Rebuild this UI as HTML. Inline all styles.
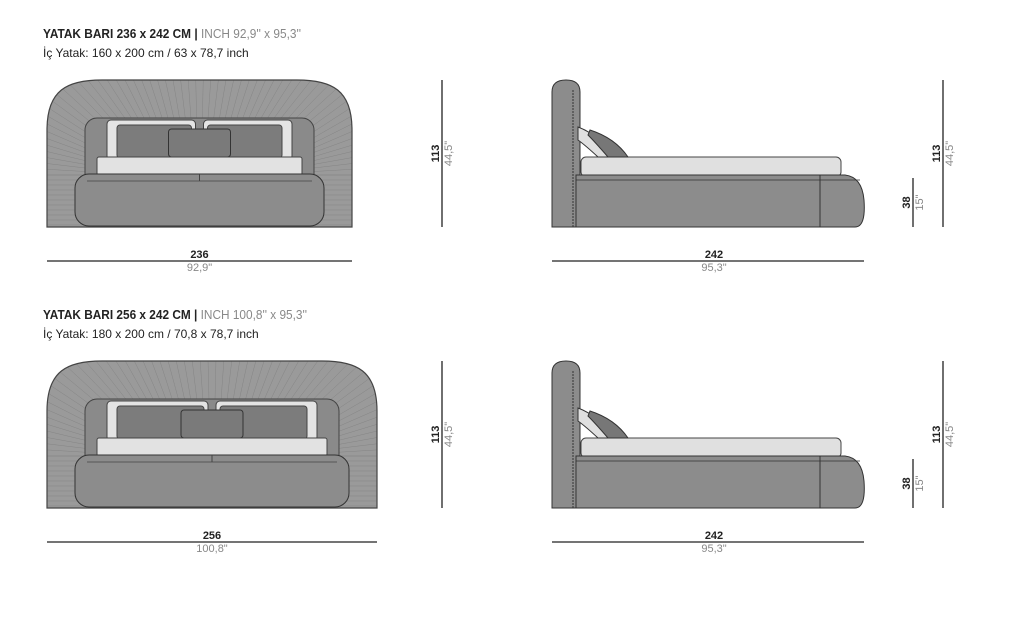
<!DOCTYPE html>
<html><head><meta charset="utf-8"><style>
body{margin:0;background:#fff;width:1021px;height:640px;overflow:hidden}
svg{display:block}
.t1{font-family:"Liberation Sans",sans-serif;font-weight:bold;font-size:13px;fill:#222}
.t1g{font-family:"Liberation Sans",sans-serif;font-size:13px;fill:#888;font-weight:normal}
.t2{font-family:"Liberation Sans",sans-serif;font-size:12px;fill:#222}
.d{font-family:"Liberation Sans",sans-serif;font-size:11px;fill:#222;font-weight:bold}
.dg{font-family:"Liberation Sans",sans-serif;font-size:11px;fill:#888}
</style></head><body>
<svg id="s" width="1021" height="640" xmlns="http://www.w3.org/2000/svg">
<text class="t1" x="43" y="38" textLength="258" lengthAdjust="spacingAndGlyphs">YATAK BARI 236 x 242 CM | <tspan class="t1g">INCH 92,9'' x 95,3''</tspan></text>
<text class="t2" x="43" y="57">İç Yatak: 160 x 200 cm / 63 x 78,7 inch</text>
<text class="t1" x="43" y="319" textLength="264" lengthAdjust="spacingAndGlyphs">YATAK BARI 256 x 242 CM | <tspan class="t1g">INCH 100,8'' x 95,3''</tspan></text>
<text class="t2" x="43" y="338">İç Yatak: 180 x 200 cm / 70,8 x 78,7 inch</text>
<g id="g"></g>
</svg>
<script>
var g=document.getElementById('g'),h='',cid=0;
function front(x0,W,y0,lbl,lblg){
 var x1=x0+W,H=147,y1=y0+H,cx=(x0+x1)/2;cid++;
 var p='M'+x0+' '+y1+' L'+x0+' '+(y0+50)+' C'+x0+' '+(y0+10)+' '+(x0+20)+' '+y0+' '+(x0+55)+' '+y0+' L'+(x1-55)+' '+y0+' C'+(x1-20)+' '+y0+' '+x1+' '+(y0+10)+' '+x1+' '+(y0+50)+' L'+x1+' '+y1+' Z';
 h+='<clipPath id="c'+cid+'"><path d="'+p+'"/></clipPath>';
 h+='<path d="'+p+'" fill="#9a9a9a"/>';
 h+='<g clip-path="url(#c'+cid+')">';
 var icx=cx, icy=y0+95;
 for(var i=0;i<60;i++){var a=Math.PI*(i/59);var dx=-Math.cos(a),dy=-Math.sin(a);
  h+='<line x1="'+(icx+dx*W*0.3)+'" y1="'+(icy+dy*40)+'" x2="'+(icx+dx*600)+'" y2="'+(icy+dy*600)+'" stroke="#858585" stroke-width="0.5"/>';}
 for(var k=0;k<11;k++){var yy=y0+95+k*5;h+='<line x1="'+x0+'" y1="'+yy+'" x2="'+(x0+38)+'" y2="'+yy+'" stroke="#858585" stroke-width="0.5"/><line x1="'+(x1-38)+'" y1="'+yy+'" x2="'+x1+'" y2="'+yy+'" stroke="#858585" stroke-width="0.5"/>';}
 h+='</g><path d="'+p+'" fill="none" stroke="#444" stroke-width="1.2"/>';
 var px0=x0+38,px1=x1-38;
 h+='<rect x="'+px0+'" y="'+(y0+38)+'" width="'+(px1-px0)+'" height="'+(H-38)+'" rx="12" fill="#8a8a8a" stroke="#444"/>';
 h+='<rect x="'+(px0+22)+'" y="'+(y0+40)+'" width="'+(cx-px0-26)+'" height="40" rx="4" fill="#e4e4e4" stroke="#444"/>';
 h+='<rect x="'+(cx+4)+'" y="'+(y0+40)+'" width="'+(px1-cx-26)+'" height="40" rx="4" fill="#e4e4e4" stroke="#444"/>';
 h+='<rect x="'+(px0+32)+'" y="'+(y0+45)+'" width="'+(cx-px0-40)+'" height="33" rx="3" fill="#7c7c7c" stroke="#444"/>';
 h+='<rect x="'+(cx+8)+'" y="'+(y0+45)+'" width="'+(px1-cx-40)+'" height="33" rx="3" fill="#7c7c7c" stroke="#444"/>';
 h+='<rect x="'+(cx-31)+'" y="'+(y0+49)+'" width="62" height="28" rx="3" fill="#7a7a7a" stroke="#333"/>';
 h+='<rect x="'+(px0+12)+'" y="'+(y0+77)+'" width="'+(px1-px0-24)+'" height="18" rx="2" fill="#e2e2e2" stroke="#444"/>';
 h+='<rect x="'+(x0+28)+'" y="'+(y0+94)+'" width="'+(W-56)+'" height="52" rx="14" fill="#8c8c8c" stroke="#333"/>';
 h+='<line x1="'+(x0+40)+'" y1="'+(y0+101)+'" x2="'+(x1-40)+'" y2="'+(y0+101)+'" stroke="#444" stroke-width="0.8"/><line x1="'+cx+'" y1="'+(y0+94)+'" x2="'+cx+'" y2="'+(y0+101)+'" stroke="#444"/>';
 var dy=y1+34;
 h+='<line x1="'+x0+'" y1="'+dy+'" x2="'+x1+'" y2="'+dy+'" stroke="#222" stroke-width="1.3"/>';
 h+='<text class="d" x="'+cx+'" y="'+(dy-3)+'" text-anchor="middle">'+lbl+'</text><text class="dg" x="'+cx+'" y="'+(dy+10)+'" text-anchor="middle">'+lblg+'</text>';
}
function vdim(x,ya,yb,a,b){
 h+='<line x1="'+x+'" y1="'+ya+'" x2="'+x+'" y2="'+yb+'" stroke="#222" stroke-width="1.3"/>';
 var my=(ya+yb)/2;
 h+='<text class="d" transform="translate('+(x-3)+','+my+') rotate(-90)" text-anchor="middle">'+a+'</text>';
 h+='<text class="dg" transform="translate('+(x+10)+','+my+') rotate(-90)" text-anchor="middle">'+b+'</text>';
}
function side(y0){
 var y1=y0+147;
 h+='<path d="M552 '+y1+' L552 '+(y0+12)+' Q552 '+y0+' 566 '+y0+' Q580 '+y0+' 580 '+(y0+12)+' L580 '+y1+' Z" fill="#8c8c8c" stroke="#333"/>';
 h+='<line x1="573" y1="'+(y0+10)+'" x2="573" y2="'+y1+'" stroke="#333" stroke-dasharray="2,1"/>';
 h+='<rect x="581" y="'+(y0+77)+'" width="260" height="20" rx="5" fill="#e0e0e0" stroke="#444"/>';
 h+='<path d="M576 '+(y0+95)+' L576 '+y1+' L855 '+y1+' Q866 '+y1+' 864 '+(y0+120)+' Q862 '+(y0+97)+' 845 '+(y0+95)+' Z" fill="#8c8c8c" stroke="#333"/>';
 h+='<line x1="576" y1="'+(y0+100)+'" x2="860" y2="'+(y0+100)+'" stroke="#333" stroke-width="0.8"/><line x1="820" y1="'+(y0+95)+'" x2="820" y2="'+y1+'" stroke="#333"/>';
 h+='<path d="M578 '+(y0+47)+' Q600 '+(y0+55)+' 610 '+(y0+77)+' L598 '+(y0+77)+' Q585 '+(y0+65)+' 578 '+(y0+60)+' Z" fill="#e0e0e0" stroke="#333"/>';
 h+='<path d="M590 '+(y0+50)+' Q615 '+(y0+58)+' 628 '+(y0+77)+' L608 '+(y0+77)+' Q595 '+(y0+62)+' 588 '+(y0+55)+' Z" fill="#777" stroke="#333"/>';
 h+='<line x1="552" y1="'+(y1+34)+'" x2="864" y2="'+(y1+34)+'" stroke="#222" stroke-width="1.3"/>';
 h+='<text class="d" x="714" y="'+(y1+31)+'" text-anchor="middle">242</text><text class="dg" x="714" y="'+(y1+44)+'" text-anchor="middle">95,3"</text>';
 vdim(913,y0+98,y1,'38','15"');
 vdim(943,y0,y1,'113','44,5"');
}
front(47,305,80,'236','92,9"');vdim(442,80,227,'113','44,5"');side(80);
front(47,330,361,'256','100,8"');vdim(442,361,508,'113','44,5"');side(361);
g.innerHTML=h;
</script>
</body></html>
